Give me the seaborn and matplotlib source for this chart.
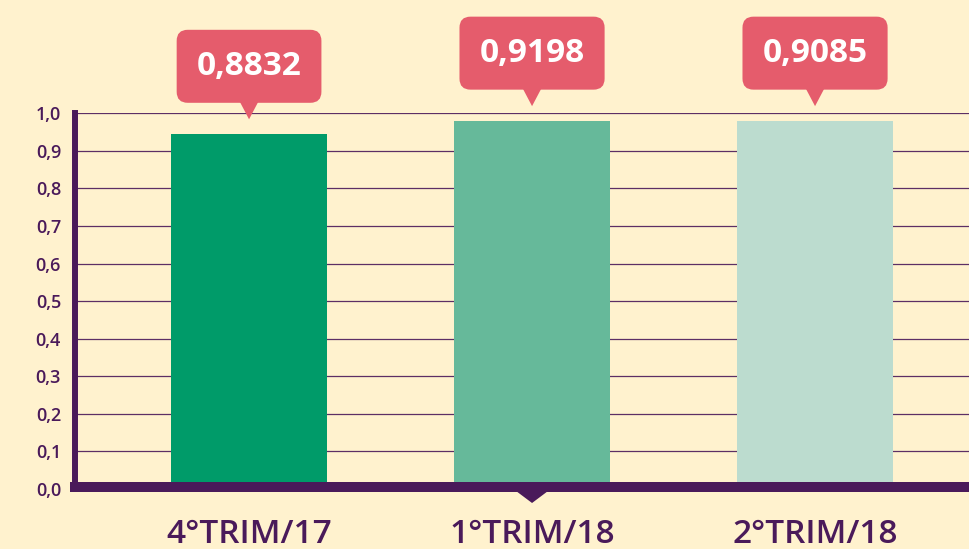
import numpy as np
import pandas as pd
import matplotlib
matplotlib.use("Agg")
import matplotlib.pyplot as plt
from matplotlib.patches import Polygon
import seaborn as sns

# values
categories = ["4°TRIM/17", "1°TRIM/18", "2°TRIM/18"]
bar_heights = [0.944, 0.979, 0.979]
bubble_labels = ["0,8832", "0,9198", "0,9085"]
bar_colors = ["#009b69", "#66b99a", "#bcdccf"]
y_ticks = [0.0, 0.1, 0.2, 0.3, 0.4, 0.5, 0.6, 0.7, 0.8, 0.9, 1.0]
y_tick_labels = ["0,0", "0,1", "0,2", "0,3", "0,4", "0,5", "0,6", "0,7", "0,8", "0,9", "1,0"]
marked_category = 1

bg = "#fff2ce"
purple = "#4a1a5a"
bubble = "#e55c6c"

sns.set_style("white")
plt.rcParams["font.family"] = ["Open Sans", "DejaVu Sans"]

fig = plt.figure(figsize=(9.69, 5.49), dpi=100, facecolor=bg)
ax = fig.add_axes([0.0774, 0.1093, 0.9226, 0.6844])
ax.set_facecolor(bg)

df = pd.DataFrame({"trim": categories, "valor": bar_heights})
sns.barplot(data=df, x="trim", y="valor", hue="trim", palette=bar_colors,
            width=0.55, saturation=1, legend=False, ax=ax, zorder=3,
            edgecolor="none", linewidth=0)

ax.set_xlim(-0.615, 2.544)
ax.set_ylim(0, 1.0)
ax.set_xlabel("")
ax.set_ylabel("")

# grid
ax.set_yticks(y_ticks)
ax.set_yticklabels(y_tick_labels)
ax.yaxis.grid(True, color=purple, linewidth=0.9, alpha=0.9, zorder=0)
ax.xaxis.grid(False)
ax.set_axisbelow(True)

# spines
for s in ["top", "right"]:
    ax.spines[s].set_visible(False)
ax.spines["left"].set_color(purple)
ax.spines["left"].set_linewidth(4.3)
ax.spines["bottom"].set_color(purple)
ax.spines["bottom"].set_linewidth(7.2)
ax.spines["bottom"].set_position(("outward", -1.4))
ax.spines["bottom"].set_zorder(4)

ax.tick_params(axis="y", length=0, pad=10, labelsize=13, labelcolor=purple)
for lab in ax.get_yticklabels():
    lab.set_fontweight("semibold")
ax.tick_params(axis="x", length=0, pad=22, labelsize=24, labelcolor=purple)
for lab in ax.get_xticklabels():
    lab.set_fontweight("semibold")

# callout bubbles
for i, (v, lab) in enumerate(zip(bar_heights, bubble_labels)):
    tx, ty = ax.transData.transform((i, v))
    ty += 15
    tri = Polygon([[tx, ty], [tx - 10, ty + 19], [tx + 10, ty + 19]],
                  closed=True, transform=None, fc=bubble, ec="none", zorder=5)
    fig.add_artist(tri)
    ax.annotate(lab, xy=(i, v), xytext=(0, (15 + 17 + 36) * 0.72),
                textcoords="offset points", ha="center", va="center",
                color="white", fontsize=24, fontweight="bold",
                bbox=dict(boxstyle="round,pad=0.6,rounding_size=0.33",
                          fc=bubble, ec="none"),
                annotation_clip=False, zorder=6)

# small marker under the axis
mx, my = ax.transData.transform((marked_category, 0))
mark = Polygon([[mx - 16, my - 2], [mx + 16, my - 2], [mx, my - 14]],
               closed=True, transform=None, fc=purple, ec="none", zorder=5)
fig.add_artist(mark)

fig.savefig("out.png", dpi=100, facecolor=bg)
